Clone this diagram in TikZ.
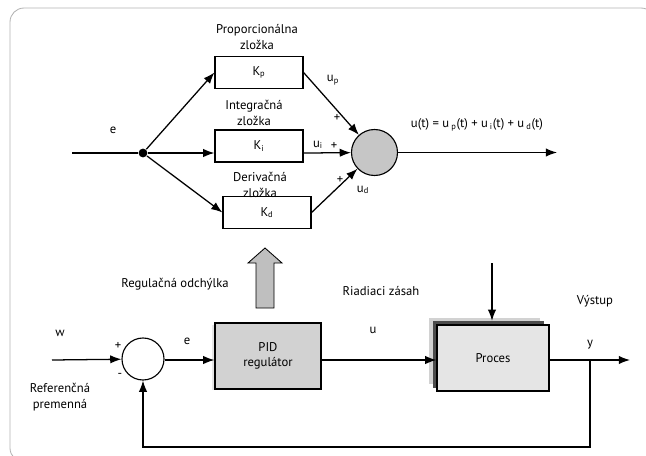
\documentclass[tikz,border=0pt]{standalone}
\usepackage{fontspec}
\setmainfont{PT Sans}
\usetikzlibrary{arrows.meta}
\tikzset{
  lbl/.style={font=\fontsize{9}{11}\selectfont, inner sep=0pt, align=center},
  block/.style={draw, line width=0.8pt, minimum width=2.2cm, minimum height=0.78cm, lbl},
  sumnode/.style={draw, circle, line width=0.8pt, inner sep=0pt},
  dotnode/.style={circle, fill, inner sep=0pt, minimum size=0.22cm},
  >={Latex[length=2.8mm,width=2.1mm]}
}
\begin{document}
\begin{tikzpicture}[x=0.025cm, y=-0.025cm, line width=0.9pt]
  \clip (0,0) rectangle (646,455);
  \draw[gray!60, line width=0.6pt, rounded corners=0.35cm] (10,8) rectangle (655,462);
  \coordinate (ein) at (72,153);
  \node[dotnode] (split) at (143,153) {};
  \node[block] (kp) at (259,72.5) {K\textsubscript{p}};
  \node[block, minimum height=0.8cm] (ki) at (259,146) {K\textsubscript{i}};
  \node[block] (kd) at (267,212.5) {K\textsubscript{d}};
  \node[sumnode, fill=gray!45, minimum size=1.15cm] (sum) at (374.5,152.5) {};
  \coordinate (uout) at (557,152.5);
  \node[lbl] at (113,130) {e};
  \node[lbl] at (257,37) {Proporcionálna\\zložka};
  \node[lbl] at (254,113) {Integračná\\zložka};
  \node[lbl] at (260,185) {Derivačná\\zložka};
  \node[lbl] at (333,80) {u\textsubscript{p}};
  \node[lbl] at (337,118) {+};
  \node[lbl] at (318,145) {u\textsubscript{i}};
  \node[lbl] at (334,146) {+};
  \node[lbl] at (340,180) {+};
  \node[lbl] at (363,190) {u\textsubscript{d}};
  \node[lbl] at (477,125) {u(t) = u\,\textsubscript{p}(t) + u\,\textsubscript{i}(t) + u\,\textsubscript{d}(t)};
  \draw (ein) -- (split);
  \draw[->] (split) -- (kp.west);
  \draw[->] (split) -- (ki.west |- split);
  \draw[->] (split) -- (kd.west);
  \draw[->] (kp.east) -- (sum);
  \draw[->] (ki.east |- split) -- (sum);
  \draw[->] (kd.east) -- (sum);
  \draw[->] (sum) -- (uout);
  \draw[fill=gray!50, line width=0.6pt] (256,308) -- (256,263) -- (248,263) -- (265,248)
    -- (282,263) -- (274,263) -- (274,308) -- cycle;
  \node[lbl] at (175,284) {Regulačná odchýlka};
  \coordinate (win) at (52,360);
  \node[sumnode, minimum size=1.05cm] (sum2) at (143,359) {};
  \node[lbl] at (60,333) {w};
  \node[lbl] at (118,346) {+};
  \node[lbl] at (120,375) {-};
  \node[lbl] at (187,341) {e};
  \node[lbl] at (60,397) {Referenčná\\premenná};
  \fill[gray!20] (212,325) rectangle (318,390);
  \node[block, fill=gray!35, minimum width=2.65cm, minimum height=1.65cm] (pid) at (268,356) {PID\\regulátor};
  \node[lbl] at (381,291) {Riadiaci zásah};
  \node[lbl] at (373,330) {u};
  \fill[gray!35] (429,318) rectangle (540,384);
  \node[fill=gray!60!black, minimum width=2.78cm, minimum height=1.65cm, inner sep=0pt] (procshadow) at (488.5,354.5) {};
  \node[block, fill=gray!20, minimum width=2.8cm, minimum height=1.65cm] (proces) at (493,358) {Proces};
  \coordinate (dist) at (492,263);
  \node[lbl] at (595,301) {Výstup};
  \node[lbl] at (590,345) {y};
  \coordinate (yout) at (630,360);
  \coordinate (branch) at (590,360);
  \coordinate (fbcorner) at (590,447);
  \draw[->] (win) -- (sum2);
  \draw[->] (sum2.east |- win) -- (pid.west |- win);
  \draw[->] (pid.east |- win) -- (proces.west |- win);
  \draw[->] (proces.east |- win) -- (yout);
  \draw[->] (dist) -- (dist |- procshadow.north);
  \draw[->] (branch) -- (fbcorner) -| (sum2.south);
\end{tikzpicture}
\end{document}
